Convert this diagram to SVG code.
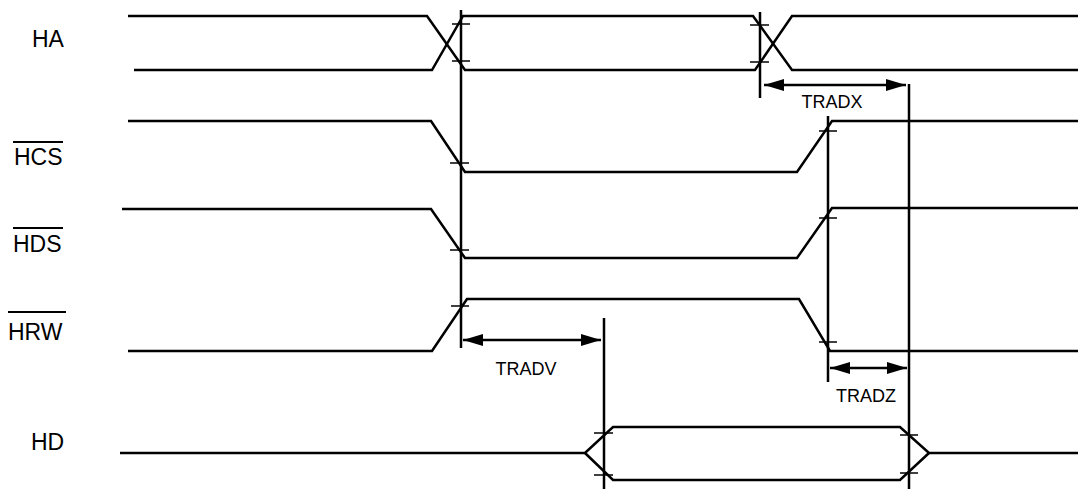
<svg xmlns="http://www.w3.org/2000/svg" width="1079" height="489" viewBox="0 0 1079 489">
<style>
.sig{fill:none;stroke:#000;stroke-width:2.5;stroke-linejoin:miter}
.v{stroke:#000;stroke-width:2.5}
.t{stroke:#000;stroke-width:1.5}
.lbl{font-family:"Liberation Sans",Arial,sans-serif;font-size:23px;fill:#000}
.tl{font-family:"Liberation Sans",Arial,sans-serif;font-size:18px;fill:#000;text-anchor:middle}
.ov{stroke:#000;stroke-width:2}
.arr{stroke:#000;stroke-width:2.5;marker-start:url(#ah);marker-end:url(#ah)}
</style>
<defs>
<marker id="ah" viewBox="0 0 20 12" refX="20" refY="6" markerWidth="20" markerHeight="12" markerUnits="userSpaceOnUse" orient="auto-start-reverse">
<path d="M0,0 L20,6 L0,12 Z" fill="#000"/>
</marker>
</defs>
<rect width="1079" height="489" fill="#fff"/>
<g id="label-HA"><text class="lbl" x="32" y="47">HA</text></g>
<g id="label-HCS"><line class="ov" x1="13" y1="142" x2="63" y2="142"/><text class="lbl" x="14" y="165">HCS</text></g>
<g id="label-HDS"><line class="ov" x1="13" y1="228" x2="63" y2="228"/><text class="lbl" x="13" y="252">HDS</text></g>
<g id="label-HRW"><line class="ov" x1="8" y1="312" x2="66" y2="312"/><text class="lbl" x="8" y="340">HRW</text></g>
<g id="label-HD"><text class="lbl" x="31" y="450">HD</text></g>
<g id="sig-HA">
<polyline class="sig" points="128,16 427,16 465,70 755,70 792,16 1078,16"/>
<polyline class="sig" points="134,70 432,70 463,16 753,16 792,70 1078,70"/>
</g>
<g id="sig-HCS"><polyline class="sig" points="128,121 431,121 465,172 797,172 832,121 1078,121"/></g>
<g id="sig-HDS"><polyline class="sig" points="122,209 431,209 465,258 797,258 832,208 1078,208"/></g>
<g id="sig-HRW"><polyline class="sig" points="128,351 432,351 467,299 799,299 830,351 1078,351"/></g>
<g id="sig-HD">
<polyline class="sig" points="120,453 585,453 613,427 900,427 929,453 1078,453"/>
<polyline class="sig" points="585,453 613,480 900,480 929,453"/>
</g>
<g id="connectors">
<line class="v" x1="461" y1="10" x2="461" y2="348"/>
<line class="v" x1="760" y1="12" x2="760" y2="98"/>
<line class="v" x1="909" y1="84" x2="909" y2="489"/>
<line class="v" x1="828" y1="116" x2="828" y2="382"/>
<line class="v" x1="604" y1="318" x2="604" y2="489"/>
<line class="t" x1="452" y1="24" x2="470" y2="24"/>
<line class="t" x1="452" y1="61" x2="470" y2="61"/>
<line class="t" x1="750" y1="25" x2="769" y2="25"/>
<line class="t" x1="750" y1="62" x2="769" y2="62"/>
<line class="t" x1="450" y1="163" x2="469" y2="163"/>
<line class="t" x1="450" y1="250" x2="469" y2="250"/>
<line class="t" x1="451" y1="306" x2="469" y2="306"/>
<line class="t" x1="819" y1="131" x2="837" y2="131"/>
<line class="t" x1="819" y1="218" x2="837" y2="218"/>
<line class="t" x1="819" y1="342" x2="837" y2="342"/>
<line class="t" x1="594" y1="433" x2="613" y2="433"/>
<line class="t" x1="594" y1="475" x2="613" y2="475"/>
<line class="t" x1="900" y1="435" x2="918" y2="435"/>
<line class="t" x1="900" y1="473" x2="918" y2="473"/>
<line class="arr" x1="764" y1="85" x2="906" y2="85"/>
<line class="arr" x1="463" y1="340" x2="601" y2="340"/>
<line class="arr" x1="830" y1="368" x2="907" y2="368"/>
</g>
<g id="timing-labels">
<text class="tl" x="832" y="108">TRADX</text>
<text class="tl" x="526" y="375">TRADV</text>
<text class="tl" x="866" y="402">TRADZ</text>
</g>
</svg>
